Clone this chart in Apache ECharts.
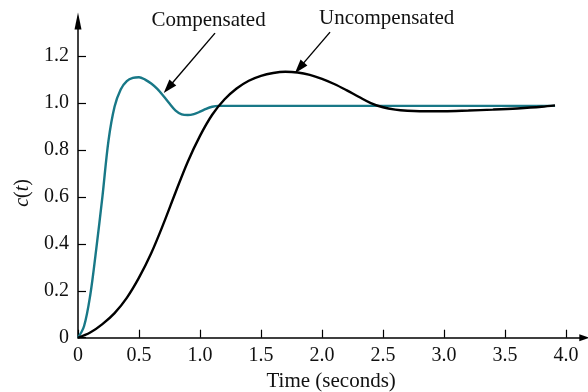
<!DOCTYPE html>
<html>
<head>
<meta charset="utf-8">
<script src="https://cdn.jsdelivr.net/npm/echarts@6/dist/echarts.min.js"></script>
<style>
  html, body { margin: 0; padding: 0; background: #fff; }
  #chart { width: 588px; height: 392px; }
</style>
</head>
<body>
<div id="chart"></div>
<script>
// Step responses c(t): time in seconds, output value
const compTime = [0, 0.05, 0.1, 0.15, 0.2, 0.25, 0.3, 0.35, 0.4, 0.45, 0.5, 0.55, 0.6, 0.65, 0.7, 0.75, 0.8, 0.85, 0.9, 0.95, 1.0, 1.05, 1.1, 1.15, 1.2, 2.0, 3.0, 3.91];
const compValue = [0, 0.05, 0.18, 0.38, 0.60, 0.84, 0.985, 1.058, 1.093, 1.107, 1.11, 1.10, 1.083, 1.06, 1.03, 0.998, 0.968, 0.952, 0.949, 0.953, 0.963, 0.975, 0.984, 0.988, 0.988, 0.988, 0.988, 0.988];

const uncompTime = [0, 0.1, 0.2, 0.3, 0.4, 0.5, 0.6, 0.7, 0.8, 0.9, 1.0, 1.1, 1.2, 1.3, 1.4, 1.5, 1.6, 1.7, 1.8, 1.9, 2.0, 2.1, 2.2, 2.3, 2.4, 2.5, 2.6, 2.7, 2.8, 3.0, 3.2, 3.4, 3.6, 3.8, 3.91];
const uncompValue = [0, 0.022, 0.058, 0.105, 0.17, 0.256, 0.36, 0.485, 0.62, 0.75, 0.86, 0.95, 1.015, 1.062, 1.095, 1.116, 1.128, 1.133, 1.13, 1.12, 1.103, 1.081, 1.055, 1.027, 1.0, 0.982, 0.972, 0.967, 0.965, 0.965, 0.968, 0.972, 0.977, 0.984, 0.99];

const xTicks = [0, 0.5, 1.0, 1.5, 2.0, 2.5, 3.0, 3.5, 4.0];
const yTicks = [0, 0.2, 0.4, 0.6, 0.8, 1.0, 1.2];

// Annotation arrows: [label, text anchor (t, c), arrow start (t, c), arrow tip (t, c)]
const annotations = [
  ['Compensated', [1.07, 1.352], [1.123, 1.298], [0.74, 1.065]],
  ['Uncompensated', [2.53, 1.36], [2.066, 1.302], [1.815, 1.15]]
];

const SERIF = '"Liberation Serif", "DejaVu Serif", serif';
const TEAL = '#187887';

const pairs = (xs, ys) => xs.map((x, i) => [x, ys[i]]);
const fmt = v => (v === 0 ? '0' : v.toFixed(1));

const chart = echarts.init(document.getElementById('chart'));

chart.setOption({
  animation: false,
  backgroundColor: '#fff',
  grid: { left: 78, right: 3.7, top: 20.9, bottom: 54.3, containLabel: false, outerBoundsMode: 'none' },
  xAxis: {
    type: 'value', min: 0, max: 4.15,
    splitLine: { show: false },
    axisLine: { lineStyle: { color: '#000', width: 1.5 }, symbol: ['none', 'triangle'], symbolSize: [7, 10] },
    axisTick: { inside: true, length: 8, lineStyle: { color: '#000', width: 1.2 }, customValues: xTicks },
    axisLabel: { customValues: xTicks, formatter: fmt, margin: 8, color: '#111', fontFamily: SERIF, fontSize: 20 },
    name: 'Time (seconds)', nameLocation: 'middle', nameGap: 30,
    nameTextStyle: { color: '#111', fontFamily: SERIF, fontSize: 21 }
  },
  yAxis: {
    type: 'value', min: 0, max: 1.35,
    splitLine: { show: false },
    axisLine: { lineStyle: { color: '#000', width: 1.5 }, symbol: ['none', 'triangle'], symbolSize: [7, 17] },
    axisTick: { inside: true, length: 8, lineStyle: { color: '#000', width: 1.2 }, customValues: yTicks },
    axisLabel: { customValues: yTicks, formatter: fmt, margin: 9, color: '#111', fontFamily: SERIF, fontSize: 20 }
  },
  series: [
    {
      name: 'Compensated', type: 'line', smooth: 0.35, symbol: 'none',
      data: pairs(compTime, compValue),
      lineStyle: { color: TEAL, width: 2.4 }, z: 2
    },
    {
      name: 'Uncompensated', type: 'line', smooth: 0.35, symbol: 'none',
      data: pairs(uncompTime, uncompValue),
      lineStyle: { color: '#000', width: 2.4 }, z: 3,
      markLine: {
        silent: true, animation: false,
        symbol: ['none', 'triangle'], symbolSize: [9, 14],
        label: { show: false },
        lineStyle: { color: '#000', width: 1.4, type: 'solid' },
        data: annotations.map(a => [{ coord: a[2] }, { coord: a[3] }])
      }
    }
  ]
});

// Text labels positioned through the chart's own coordinate system
const graphics = annotations.map(a => {
  const p = chart.convertToPixel({ gridIndex: 0 }, a[1]);
  return {
    type: 'text', x: p[0], y: p[1],
    style: { text: a[0], fill: '#111', font: '21px ' + SERIF, textAlign: 'center', textVerticalAlign: 'middle' }
  };
});
const yLab = chart.convertToPixel({ gridIndex: 0 }, [0, 0.617]);
graphics.push({
  type: 'text', x: yLab[0] - 55, y: yLab[1], rotation: Math.PI / 2,
  style: {
    text: '{i|c}{n|(}{i|t}{n|)}', textAlign: 'center', textVerticalAlign: 'middle',
    rich: {
      i: { fontFamily: SERIF, fontSize: 20, fontStyle: 'italic', fill: '#111' },
      n: { fontFamily: SERIF, fontSize: 20, fill: '#111' }
    }
  }
});
chart.setOption({ graphic: graphics });
</script>
</body>
</html>
